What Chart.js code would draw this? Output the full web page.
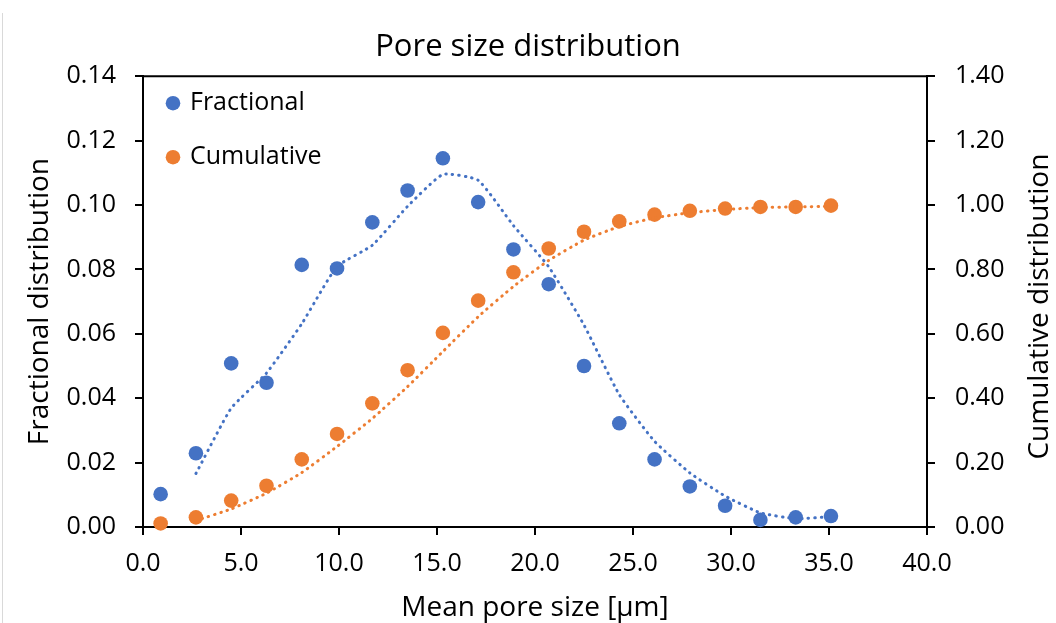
<!DOCTYPE html>
<html>
<head>
<meta charset="utf-8">
<title>Pore size distribution</title>
<script src="https://cdn.jsdelivr.net/npm/chart.js"></script>
<style>
  html, body { margin: 0; padding: 0; background: #fff; }
  #wrap { position: relative; width: 1056px; height: 623px; }
  #edge { position: absolute; left: 2px; top: 13px; width: 1px; height: 610px; background: #d9d9d9; }
</style>
</head>
<body>
<div id="wrap">
  <canvas id="poreChart" width="1056" height="623"></canvas>
  <div id="edge"></div>
</div>
<script>
// Mean pore size [µm] of each size class.
var poreSize = [0.9, 2.7, 4.5, 6.3, 8.1, 9.9, 11.7, 13.5, 15.3, 17.1, 18.9, 20.7, 22.5, 24.3, 26.1, 27.9, 29.7, 31.5, 33.3, 35.1];

// Fractional distribution (left axis).
var fractional = [0.0102, 0.0229, 0.0508, 0.0448, 0.0814, 0.0803, 0.0946, 0.1045, 0.1145, 0.1009, 0.0862, 0.0754, 0.0500, 0.0322, 0.0210, 0.0126, 0.0066, 0.0022, 0.0030, 0.0034];

// Cumulative distribution (right axis).
var cumulative = [0.011, 0.030, 0.082, 0.128, 0.210, 0.289, 0.384, 0.487, 0.603, 0.703, 0.791, 0.865, 0.917, 0.949, 0.970, 0.982, 0.989, 0.994, 0.994, 0.998];

// Dotted trend lines, they start at the second size class.
var trendSize = [2.7, 4.5, 6.3, 8.1, 9.9, 11.7, 13.5, 15.3, 17.1, 18.9, 20.7, 22.5, 24.3, 26.1, 27.9, 29.7, 31.5, 33.3, 35.1];
var fractionalTrend = [0.0166, 0.0369, 0.0478, 0.0631, 0.0809, 0.0875, 0.0996, 0.1095, 0.1077, 0.0936, 0.0808, 0.0627, 0.0411, 0.0266, 0.0168, 0.0096, 0.0044, 0.0026, 0.0032];
var cumulativeTrend = [0.020, 0.056, 0.105, 0.169, 0.250, 0.337, 0.436, 0.545, 0.653, 0.747, 0.828, 0.891, 0.933, 0.960, 0.976, 0.986, 0.992, 0.994, 0.996];

// Axis ranges: [min, max, step].
var xRange = [0, 40, 5];
var leftRange = [0, 0.14, 0.02];
var rightRange = [0, 1.4, 0.2];

var blue = '#4472C4';
var orange = '#ED7D31';
var fontFamily = '"Open Sans", "Noto Sans", sans-serif';

function toPoints(xs, ys) {
  return xs.map(function (x, i) {
    return { x: x, y: ys[i] };
  });
}

/**
 * Box top line, legend inside the plot and the right axis title.
 */
var decorPlugin = {
  id: 'decor',
  afterDraw: function (chart) {
    var ctx = chart.ctx;
    var area = chart.chartArea;

    ctx.save();
    ctx.strokeStyle = '#000';
    ctx.lineWidth = 2;
    ctx.beginPath();
    ctx.moveTo(area.left, area.top);
    ctx.lineTo(area.right, area.top);
    ctx.stroke();

    // Legend.
    var items = [
      { text: 'Fractional', color: blue },
      { text: 'Cumulative', color: orange }
    ];
    ctx.font = '25px ' + fontFamily;
    ctx.textBaseline = 'middle';
    ctx.textAlign = 'left';
    items.forEach(function (item, i) {
      var y = area.top + 27 + i * 54;
      ctx.fillStyle = item.color;
      ctx.beginPath();
      ctx.arc(area.left + 30, y, 7.3, 0, Math.PI * 2);
      ctx.fill();
      ctx.fillStyle = '#000';
      ctx.fillText(item.text, area.left + 47, y);
    });

    // Right axis title reads bottom to top.
    ctx.font = '28px ' + fontFamily;
    ctx.textAlign = 'center';
    ctx.translate(1040, (area.top + area.bottom) / 2 + 5);
    ctx.rotate(-Math.PI / 2);
    ctx.fillText('Cumulative distribution', 0, 0);
    ctx.restore();
  }
};

function axisStyle() {
  return {
    grid: { drawOnChartArea: false, drawTicks: true, tickLength: 8, color: '#000', lineWidth: 2 },
    border: { display: true, color: '#000', width: 2 }
  };
}

var xAxis = axisStyle();
xAxis.type = 'linear';
xAxis.position = 'bottom';
xAxis.min = xRange[0];
xAxis.max = xRange[1];
xAxis.ticks = {
  stepSize: xRange[2], padding: 14, color: '#000',
  font: { family: fontFamily, size: 25 },
  callback: function (v) { return v.toFixed(1); }
};
xAxis.title = {
  display: true, text: 'Mean pore size [µm]', color: '#000',
  font: { family: fontFamily, size: 28, lineHeight: 1 },
  padding: { top: 0, bottom: 1 }
};
xAxis.afterFit = function (scale) { scale.height = 96; };

var yAxis = axisStyle();
yAxis.type = 'linear';
yAxis.position = 'left';
yAxis.min = leftRange[0];
yAxis.max = leftRange[1];
yAxis.ticks = {
  stepSize: leftRange[2], padding: 19, color: '#000',
  font: { family: fontFamily, size: 25 },
  callback: function (v) { return v.toFixed(2); }
};
yAxis.title = {
  display: true, text: 'Fractional distribution', color: '#000',
  font: { family: fontFamily, size: 28, lineHeight: 1 },
  padding: { top: 26, bottom: 0 }
};
yAxis.afterFit = function (scale) { scale.width = 143; };

var y2Axis = axisStyle();
y2Axis.type = 'linear';
y2Axis.position = 'right';
y2Axis.min = rightRange[0];
y2Axis.max = rightRange[1];
y2Axis.ticks = {
  stepSize: rightRange[2], padding: 20, color: '#000',
  font: { family: fontFamily, size: 25 },
  callback: function (v) { return v.toFixed(2); }
};
y2Axis.afterFit = function (scale) { scale.width = 129; };

var ctx = document.getElementById('poreChart');

var poreChart = new Chart(ctx, {
  type: 'scatter',
  data: {
    datasets: [
      {
        label: 'Fractional',
        data: toPoints(poreSize, fractional),
        yAxisID: 'y',
        backgroundColor: blue,
        pointRadius: 7.3,
        pointBorderWidth: 0,
        clip: false,
        order: 2
      },
      {
        label: 'Cumulative',
        data: toPoints(poreSize, cumulative),
        yAxisID: 'y2',
        backgroundColor: orange,
        pointRadius: 7.3,
        pointBorderWidth: 0,
        clip: false,
        order: 2
      },
      {
        label: 'Fractional trend',
        data: toPoints(trendSize, fractionalTrend),
        yAxisID: 'y',
        showLine: true,
        borderColor: blue,
        borderWidth: 3,
        borderDash: [0.5, 6],
        borderCapStyle: 'round',
        tension: 0.15,
        pointRadius: 0,
        clip: false,
        order: 1
      },
      {
        label: 'Cumulative trend',
        data: toPoints(trendSize, cumulativeTrend),
        yAxisID: 'y2',
        showLine: true,
        borderColor: orange,
        borderWidth: 3,
        borderDash: [0.5, 6],
        borderCapStyle: 'round',
        tension: 0.15,
        pointRadius: 0,
        clip: false,
        order: 1
      }
    ]
  },
  options: {
    responsive: false,
    devicePixelRatio: 1,
    animation: false,
    events: [],
    layout: { padding: 0 },
    scales: { x: xAxis, y: yAxis, y2: y2Axis },
    plugins: {
      legend: { display: false },
      tooltip: { enabled: false },
      title: {
        display: true,
        text: 'Pore size distribution',
        color: '#000',
        font: { family: fontFamily, size: 31, weight: 'normal', lineHeight: 1.2 },
        padding: { top: 29, bottom: 10 }
      }
    }
  },
  plugins: [decorPlugin]
});
</script>
</body>
</html>
